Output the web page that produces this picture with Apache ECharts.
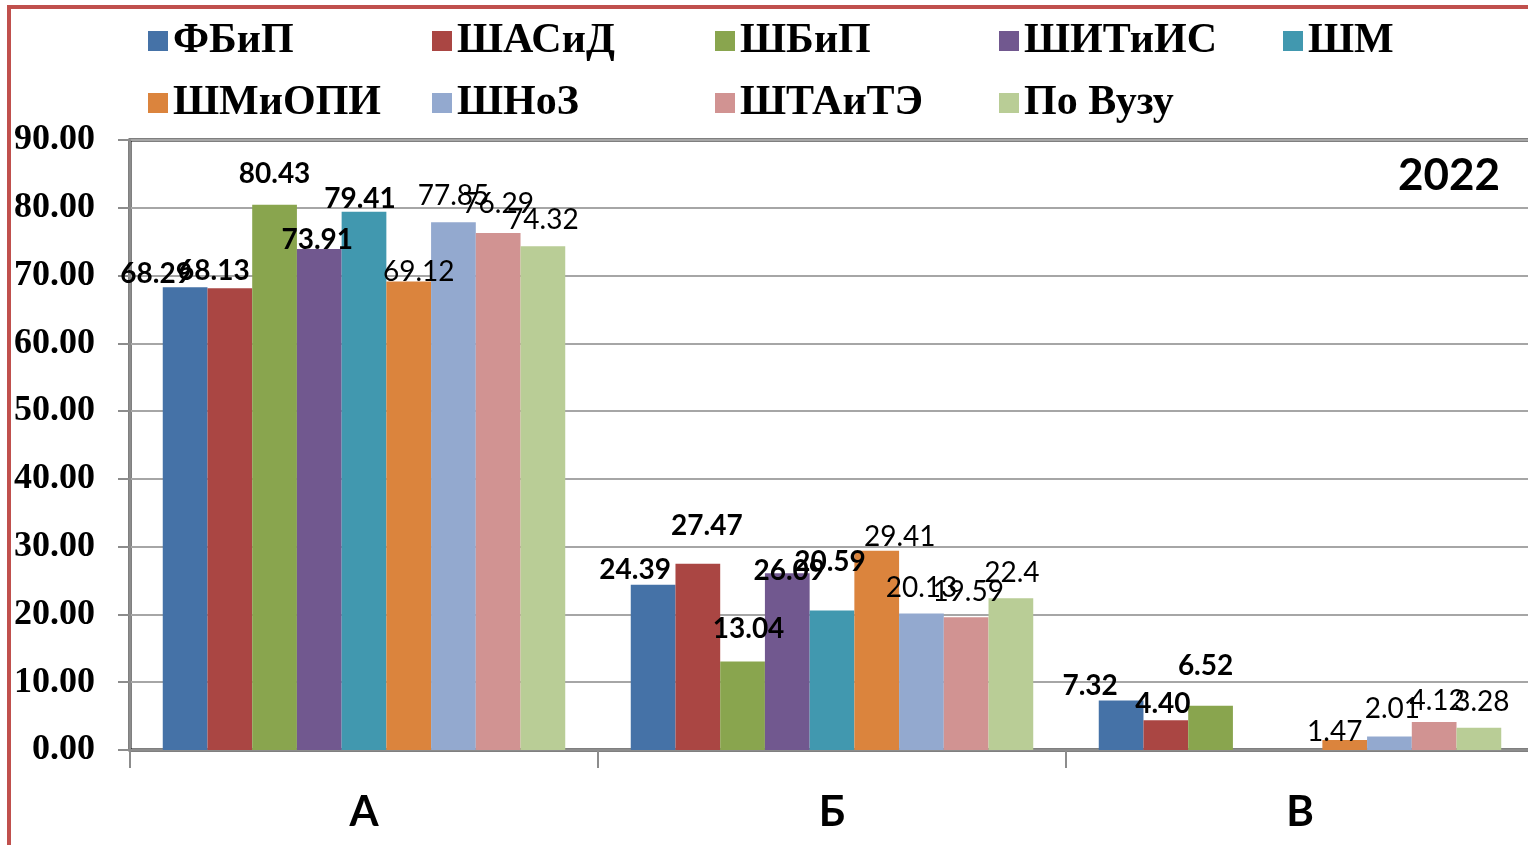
<!DOCTYPE html>
<html><head><meta charset="utf-8">
<script src="https://cdn.jsdelivr.net/npm/echarts@6/dist/echarts.min.js"></script>
<style>html,body{margin:0;padding:0;background:#fff;}#c{width:1528px;height:845px;}</style>
</head><body><div id="c"></div>
<script>
const categories = ['А', 'Б', 'В'];
const seriesNames = ['ФБиП', 'ШАСиД', 'ШБиП', 'ШИТиИС', 'ШМ', 'ШМиОПИ', 'ШНоЗ', 'ШТАиТЭ', 'По Вузу'];
const fbip    = [68.29, 24.39, 7.32];
const shasid  = [68.13, 27.47, 4.40];
const shbip   = [80.43, 13.04, 6.52];
const shitiis = [73.91, 26.09, null];
const shm     = [79.41, 20.59, null];
const shmiopi = [69.12, 29.41, 1.47];
const shnoz   = [77.85, 20.13, 2.01];
const shtaite = [76.29, 19.59, 4.12];
const poVuzu  = [74.32, 22.4, 3.28];
const yearLabel = '2022';

const values = [fbip, shasid, shbip, shitiis, shm, shmiopi, shnoz, shtaite, poVuzu];
const colors = ['#4572A7', '#AA4643', '#89A54E', '#71588F', '#4198AF', '#DB843D', '#93A9CF', '#D19392', '#B9CD96'];
const boldLabels = [true, true, true, true, true, false, false, false, false];
// label nudges (px) to mimic the manually placed labels of the original
const labelNudge = [
  [[-29, 6], [-18, 4], [-31, 5]],
  [[-16, 2], [9, -19], [-3, 3]],
  [[0, -12], [6, -14], [-5, -21]],
  [[-2, 10], [2, 17], [0, 0]],
  [[-4, 6], [-2, -29], [0, 0]],
  [[10, 9], [23, 5], [-10, 11]],
  [[0, -7], [0, -7], [3, -8]],
  [[0, -10], [2, -6], [3, -2]],
  [[0, -7], [1, -6], [3, -7]]
];

const chart = echarts.init(document.getElementById('c'), null, {renderer: 'canvas'});

const legendCols = [143, 427, 710, 994, 1278];
const legendRows = [15, 77];
const legends = seriesNames.map((name, i) => ({
  data: [name],
  left: legendCols[i % 5],
  top: legendRows[Math.floor(i / 5)],
  icon: 'rect',
  itemWidth: 20,
  itemHeight: 20,
  selectedMode: false,
  textStyle: {fontFamily: 'Liberation Serif', fontWeight: 'bold', fontSize: 42, color: '#000'}
}));

const series = seriesNames.map((name, i) => ({
  name: name,
  type: 'bar',
  barGap: '0%',
  barCategoryGap: '14%',
  itemStyle: {color: colors[i]},
  data: values[i].map((v, j) => ({
    value: v,
    label: {offset: labelNudge[i][j]}
  })),
  label: {
    show: true,
    position: 'top',
    distance: 5,
    fontFamily: 'Lato',
    fontSize: 28,
    fontWeight: boldLabels[i] ? 'bold' : 'normal',
    color: '#000',
    formatter: p => p.value == null ? '' : (boldLabels[i] ? Number(p.value).toFixed(2) : String(p.value))
  }
}));

chart.setOption({
  animation: false,
  backgroundColor: '#fff',
  color: colors,
  legend: legends,
  grid: {left: 130, top: 140, bottom: 95, width: 1404, outerBoundsMode: 'none', containLabel: false, show: true, borderColor: '#000', borderWidth: 3, backgroundColor: 'transparent'},
  xAxis: {
    type: 'category',
    data: categories,
    axisLine: {show: true, lineStyle: {color: '#8c8c8c', width: 2}},
    axisTick: {show: true, length: 18, lineStyle: {color: '#8c8c8c', width: 2}},
    axisLabel: {margin: 41, fontFamily: 'Lato', fontWeight: 'bold', fontSize: 42, color: '#000'},
    splitLine: {show: false}
  },
  yAxis: {
    type: 'value',
    min: 0, max: 90, interval: 10,
    axisLine: {show: true, lineStyle: {color: '#8c8c8c', width: 2}},
    axisTick: {show: true, length: 12, lineStyle: {color: '#8c8c8c', width: 2}},
    axisLabel: {margin: 35, fontFamily: 'Liberation Serif', fontWeight: 'bold', fontSize: 36, color: '#000', formatter: v => v.toFixed(2)},
    splitLine: {show: true, lineStyle: {color: '#a6a6a6', width: 2}}
  },
  graphic: [
    {type: 'rect', silent: true, z: 100, shape: {x: 9, y: 7, width: 1600, height: 900}, style: {fill: 'none', stroke: '#C0504D', lineWidth: 4}},
    {type: 'text', right: 28, top: 154, z: 100, style: {text: yearLabel, fontFamily: 'Lato', fontWeight: 'bold', fontSize: 44, fill: '#000'}}
  ],
  series: series
});
</script></body></html>
